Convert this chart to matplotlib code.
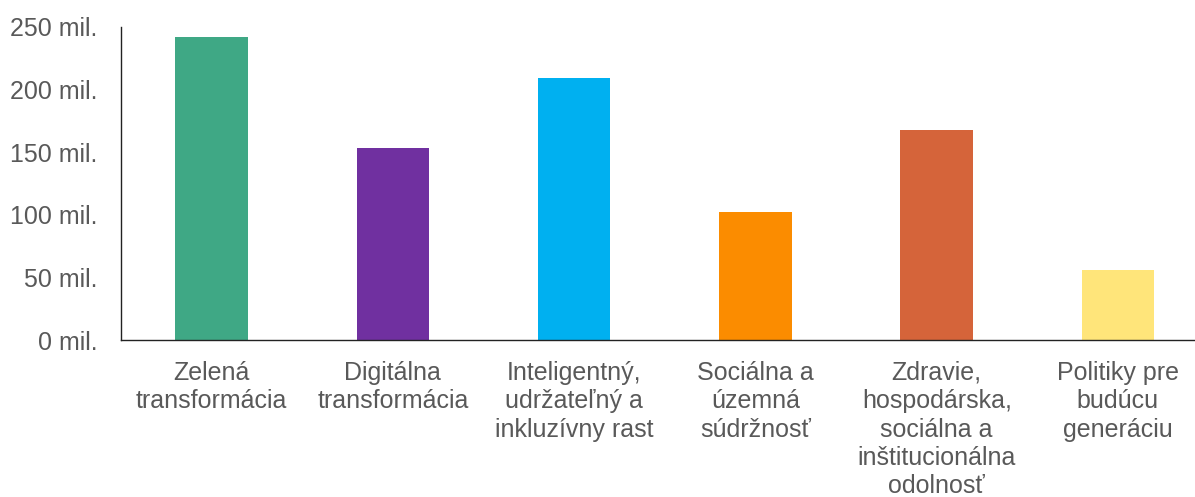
import matplotlib
matplotlib.use("Agg")
import matplotlib.pyplot as plt

plt.rcParams["font.family"] = ["Liberation Sans", "DejaVu Sans"]

# Data (mil. EUR)
categories = ["Zelená\ntransformácia",
              "Digitálna\ntransformácia",
              "Inteligentný,\nudržateľný a\ninkluzívny rast",
              "Sociálna a\núzemná\nsúdržnosť",
              "Zdravie,\nhospodárska,\nsociálna a\ninštitucionálna\nodolnosť",
              "Politiky pre\nbudúcu\ngeneráciu"]
values = [242, 153.5, 209.5, 102, 167.5, 56]
colors = ["#3FA885", "#7030A0", "#00B0F0", "#FB8C00", "#D5643A", "#FFE57A"]
yticks = [0, 50, 100, 150, 200, 250]

TXT = "#595959"

fig = plt.figure(figsize=(11.95, 4.97), dpi=100)
ax = fig.add_axes([121 / 1195, 157 / 497, (1195 - 121) / 1195, 313 / 497])

x = list(range(len(categories)))
ax.bar(x, values, width=0.40, color=colors, zorder=2)

ax.set_xlim(-0.5, 5.425)
ax.set_ylim(0, 250)
ax.set_yticks(yticks)
ax.set_yticklabels([f"{v} mil." for v in yticks], fontsize=18, color=TXT)
ax.set_xticks(x)
ax.set_xticklabels(categories, fontsize=18, color=TXT, linespacing=1.23)
ax.tick_params(axis="y", length=0, pad=17)
ax.tick_params(axis="x", length=0, pad=15)

for s in ["top", "right"]:
    ax.spines[s].set_visible(False)
for s in ["left", "bottom"]:
    ax.spines[s].set_color("#222222")
    ax.spines[s].set_linewidth(1.0)

fig.savefig("out.png", dpi=100)
